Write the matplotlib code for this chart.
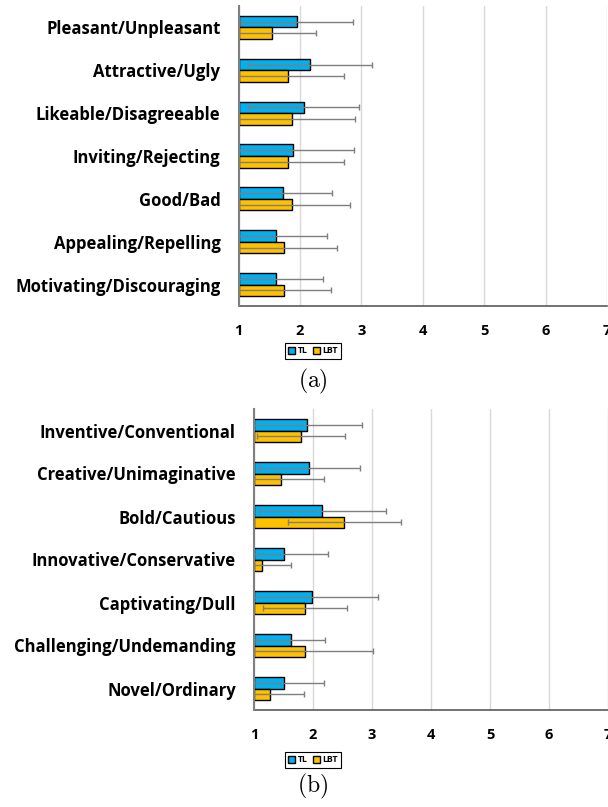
import numpy as np
import matplotlib.pyplot as plt
from matplotlib.patches import Patch

plt.rcParams["mathtext.fontset"] = "cm"

# panel (a): attractiveness pairs
labels_a = ["Pleasant/Unpleasant", "Attractive/Ugly", "Likeable/Disagreeable",
            "Inviting/Rejecting", "Good/Bad", "Appealing/Repelling",
            "Motivating/Discouraging"]
tl_mean_a = [1.95, 2.17, 2.06, 1.89, 1.73, 1.61, 1.61]
tl_sd_a = [0.91, 1.01, 0.90, 0.99, 0.80, 0.83, 0.76]
lbt_mean_a = [1.54, 1.81, 1.87, 1.81, 1.87, 1.74, 1.74]
lbt_sd_a = [0.72, 0.91, 1.02, 0.91, 0.95, 0.86, 0.77]

# panel (b): novelty pairs
labels_b = ["Inventive/Conventional", "Creative/Unimaginative", "Bold/Cautious",
            "Innovative/Conservative", "Captivating/Dull",
            "Challenging/Undemanding", "Novel/Ordinary"]
tl_mean_b = [1.89, 1.94, 2.16, 1.50, 1.99, 1.62, 1.50]
tl_sd_b = [0.94, 0.85, 1.07, 0.76, 1.11, 0.58, 0.69]
lbt_mean_b = [1.80, 1.46, 2.53, 1.13, 1.87, 1.87, 1.27]
lbt_sd_b = [0.75, 0.73, 0.96, 0.50, 0.71, 1.14, 0.57]

TL_COLOR = "#00B0F0"
LBT_COLOR = "#FFC000"
W, H = 608, 807


def draw_panel(ax, labels, tl_m, tl_s, lbt_m, lbt_s):
    n = len(labels)
    y = np.arange(n)[::-1].astype(float)
    h = 0.27
    base = 1
    ax.barh(y + h / 2, np.array(tl_m) - base, left=base, height=h,
            color=TL_COLOR, edgecolor="black", linewidth=1.0, zorder=2)
    ax.barh(y - h / 2, np.array(lbt_m) - base, left=base, height=h,
            color=LBT_COLOR, edgecolor="black", linewidth=1.0, zorder=2)
    ax.errorbar(tl_m, y + h / 2, xerr=tl_s, fmt="none", ecolor="#7f7f7f",
                elinewidth=1.0, capsize=2, capthick=1.0, zorder=3)
    ax.errorbar(lbt_m, y - h / 2, xerr=lbt_s, fmt="none", ecolor="#7f7f7f",
                elinewidth=1.0, capsize=2, capthick=1.0, zorder=3)
    ax.set_xlim(1, 7)
    ax.set_ylim(-0.5, n - 0.5)
    ax.set_yticks(y)
    ax.set_yticklabels(labels, fontsize=12, fontweight="bold", family="Open Sans")
    ax.set_xticks(range(1, 8))
    ax.set_xticklabels([str(v) for v in range(1, 8)], fontsize=10.5,
                       fontweight="bold", family="Open Sans")
    ax.tick_params(axis="y", length=0, pad=13)
    ax.tick_params(axis="x", length=0, pad=13)
    ax.grid(axis="x", color="#d9d9d9", linewidth=1.0, zorder=0)
    ax.set_axisbelow(True)
    for s in ("top", "right"):
        ax.spines[s].set_visible(False)
    ax.spines["left"].set_color("#808080")
    ax.spines["left"].set_linewidth(1.5)
    ax.spines["bottom"].set_color("#595959")
    ax.spines["bottom"].set_linewidth(1.2)
    ax.spines["left"].set_zorder(4)


fig = plt.figure(figsize=(W / 100, H / 100), dpi=100)

ax_a = fig.add_axes([238.5 / W, 501 / H, (607 - 238.5) / W, 300 / H])
draw_panel(ax_a, labels_a, tl_mean_a, tl_sd_a, lbt_mean_a, lbt_sd_a)

ax_b = fig.add_axes([254 / W, 97 / H, (608 - 254) / W, 301 / H])
draw_panel(ax_b, labels_b, tl_mean_b, tl_sd_b, lbt_mean_b, lbt_sd_b)

handles = [Patch(facecolor=TL_COLOR, edgecolor="black", label="TL"),
           Patch(facecolor=LBT_COLOR, edgecolor="black", label="LBT")]
for ycen in (351, 760):
    leg = fig.legend(handles=handles, loc="center", ncol=2,
                     bbox_to_anchor=(313 / W, 1 - ycen / H),
                     prop={"size": 6.3, "weight": "bold", "family": "Open Sans"},
                     handlelength=0.8, handleheight=0.8, handletextpad=0.3,
                     columnspacing=0.6, borderpad=0.35, fancybox=False,
                     framealpha=1)
    leg.get_frame().set_edgecolor("black")
    leg.get_frame().set_linewidth(0.8)

fig.text(313 / W, 1 - 381 / H, r"$\mathrm{(a)}$", ha="center", va="center", fontsize=17)
fig.text(313 / W, 1 - 786 / H, r"$\mathrm{(b)}$", ha="center", va="center", fontsize=17)

fig.savefig("out.png", dpi=100)
